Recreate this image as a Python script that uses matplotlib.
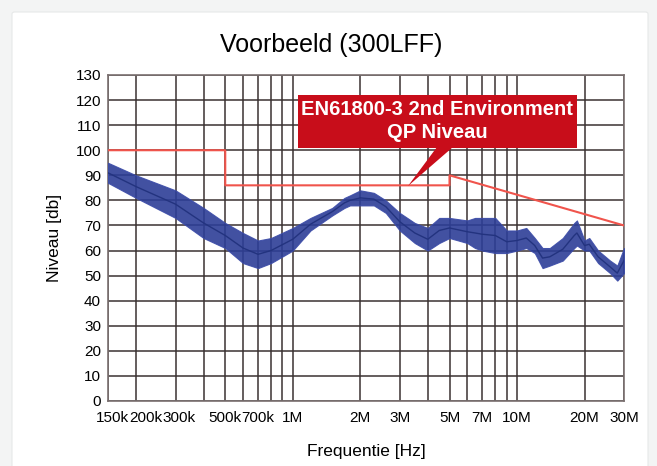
import numpy as np
import matplotlib.pyplot as plt
import matplotlib.transforms as mtransforms
from matplotlib.patches import FancyBboxPatch, Polygon

plt.rcParams['font.family'] = ['Liberation Sans', 'DejaVu Sans']

freq = [150e3, 200e3, 300e3, 400e3, 500e3, 600e3, 700e3, 800e3, 1e6, 1.2e6,
        1.5e6, 1.7e6, 1.8e6, 2e6, 2.3e6, 2.6e6, 3e6, 3.5e6, 4e6, 4.5e6, 5e6,
        6e6, 6.5e6, 7e6, 8e6, 9e6, 10e6, 11e6, 12e6, 13e6, 14e6, 16e6, 18e6,
        18.5e6, 20e6, 21e6, 23e6, 26e6, 28e6, 30e6]
upper = [95, 90, 84, 77, 71, 67, 64, 65, 69, 73,
         77, 81, 82, 84, 83, 80, 75, 71, 69, 73, 73,
         72, 73, 73, 73, 68, 68, 69, 65, 61, 61, 65, 71,
         72, 64, 65, 60, 56, 54, 61]
lower = [87, 81, 73, 65, 61, 55, 53, 55, 60, 68,
         74, 77, 78, 78, 78, 75, 68, 63, 60, 63, 65,
         63, 61, 60, 59, 59, 60, 61, 59, 53, 54, 56, 61,
         62, 60, 60, 55, 51, 48, 51]

# EN61800-3 2nd environment QP limit
limit_f = [150e3, 500e3, 500e3, 5e6, 5e6, 30e6]
limit_db = [100, 100, 86, 86, 90, 70]

grid_f = [150e3, 200e3, 300e3, 400e3, 500e3, 600e3, 700e3, 800e3, 900e3,
          1e6, 2e6, 3e6, 4e6, 5e6, 6e6, 7e6, 8e6, 9e6, 10e6, 20e6, 30e6]
grid_labels = ['150k', '200k', '300k', '', '500k', '', '700k', '', '',
               '1M', '2M', '3M', '', '5M', '', '7M', '', '', '10M', '20M', '30M']

fig = plt.figure(figsize=(6.57, 4.66), dpi=100, facecolor='#f3f4f4')
card = FancyBboxPatch((12 / 657, -0.05), 636 / 657, 1.05 - 12 / 466,
                      boxstyle='round,pad=0,rounding_size=0.004',
                      transform=fig.transFigure, facecolor='white',
                      edgecolor='#e6e8e8', linewidth=0.8, zorder=-10)
fig.patches.append(card)

ax = fig.add_axes([108 / 657, 1 - 401 / 466, 516 / 657, 326 / 466])
ax.set_facecolor('white')
ax.set_xscale('log')
ax.set_xlim(150e3, 30e6)
ax.set_ylim(0, 130)

ax.set_xticks(grid_f)
ax.set_xticklabels(grid_labels)
ax.xaxis.set_minor_locator(plt.NullLocator())
ax.set_yticks(np.arange(0, 131, 10))
ax.tick_params(length=0, labelsize=11, pad=5)
ax.tick_params(axis='x', pad=7)
ax.grid(True, color='#3a3131', linewidth=1.1)
for s in ax.spines.values():
    s.set_color('#7a7070')
    s.set_linewidth(1.2)

# the crowded low-frequency labels sit a little to the right in the original
shifts = {'150k': 4.5, '200k': 9.5, '300k': 4}
for lab in ax.get_xticklabels():
    dx = shifts.get(lab.get_text(), 0)
    if dx:
        lab.set_transform(lab.get_transform() +
                          mtransforms.ScaledTranslation(dx / 100, 0, fig.dpi_scale_trans))

ax.fill_between(freq, lower, upper, color='#2d3e97', alpha=0.9, linewidth=0.8,
                edgecolor='#3c4ca8', zorder=3)
ax.plot(freq, [(u + l) / 2 for u, l in zip(upper, lower)], color='#23337f',
        linewidth=1.0, zorder=3)
ax.plot(limit_f, limit_db, color='#f0544c', linewidth=1.5, zorder=4)

# callout box
box = FancyBboxPatch((298 / 657, 1 - 148 / 466), 279 / 657, 53 / 466,
                     boxstyle='square,pad=0', transform=fig.transFigure,
                     facecolor='#c80d1a', edgecolor='none', zorder=5)
fig.patches.append(box)
ax.add_patch(Polygon([(437 / 657, 1 - 147 / 466), (453 / 657, 1 - 147 / 466),
                      (408 / 657, 1 - 186 / 466)], closed=True,
                     transform=fig.transFigure, facecolor='#c80d1a',
                     edgecolor='none', zorder=5, clip_on=False))
fig.text(437 / 657, 1 - 121 / 466, 'EN61800-3 2nd Environment\nQP Niveau',
         color='white', fontsize=14.5, fontweight='bold', ha='center',
         va='center', linespacing=1.25, zorder=6)

fig.text(331 / 657, 1 - 45 / 466, 'Voorbeeld (300LFF)', fontsize=18,
         ha='center', va='center')
ax.set_xlabel('Frequentie [Hz]', fontsize=12.5, labelpad=14)
ax.set_ylabel('Niveau [db]', fontsize=12.5, labelpad=10)

fig.savefig('out.png', dpi=100, facecolor=fig.get_facecolor())
